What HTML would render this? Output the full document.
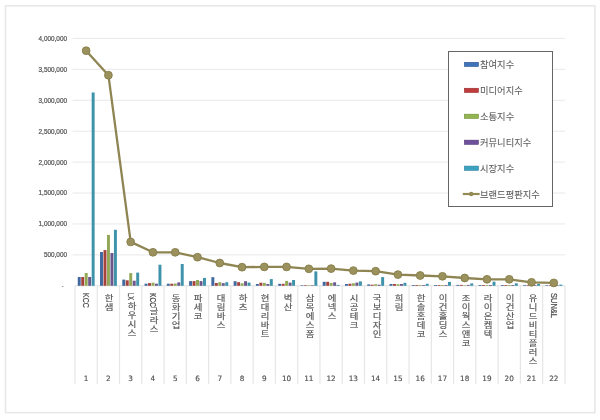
<!DOCTYPE html>
<html><head><meta charset="utf-8"><style>
html,body{margin:0;padding:0;background:#fff;}
#c{position:relative;width:600px;height:420px;overflow:hidden;background:#fff;}
#t{position:absolute;left:0;top:0;width:600px;height:420px;will-change:transform;}
svg{position:absolute;left:0;top:0;}
.yl{position:absolute;right:533px;font:6.4px/10px "Liberation Sans",sans-serif;color:#505050;-webkit-text-stroke:0.2px #505050;white-space:nowrap;text-align:right;}
.yz{position:absolute;left:61.5px;font:6.4px/10px "Liberation Sans",sans-serif;color:#595959;}
.lg{position:absolute;left:480px;font:9.3px/12px "Liberation Sans","Noto Sans CJK KR",sans-serif;color:#5a5a5a;-webkit-text-stroke:0.05px #5a5a5a;white-space:nowrap;}
.cl{position:absolute;top:293.6px;width:10px;writing-mode:vertical-rl;font:8.4px/10px "Liberation Sans","Noto Sans CJK KR",sans-serif;letter-spacing:0.6px;color:#525252;-webkit-text-stroke:0.15px #525252;white-space:nowrap;transform:scaleX(1.12);transform-origin:50% 0;}
.ll{position:absolute;top:293.2px;height:10px;font:8.8px/10px "Liberation Sans",sans-serif;color:#4a4a4a;-webkit-text-stroke:0.2px #4a4a4a;white-space:nowrap;transform-origin:0 0;}
.cn{position:absolute;top:374px;width:16px;text-align:center;font:7.3px/10px "DejaVu Sans",sans-serif;color:#505050;-webkit-text-stroke:0.15px #505050;}
</style></head><body><div id="c">
<svg width="600" height="420" viewBox="0 0 600 420">
<rect x="5.5" y="5.8" width="589.4" height="406.8" fill="#fff" stroke="#e6e6e6" stroke-width="1.5"/>
<line x1="72.5" y1="254.88" x2="564.94" y2="254.88" stroke="#e8e8e8" stroke-width="1"/>
<line x1="72.5" y1="223.95" x2="564.94" y2="223.95" stroke="#e8e8e8" stroke-width="1"/>
<line x1="72.5" y1="193.03" x2="564.94" y2="193.03" stroke="#e8e8e8" stroke-width="1"/>
<line x1="72.5" y1="162.10" x2="564.94" y2="162.10" stroke="#e8e8e8" stroke-width="1"/>
<line x1="72.5" y1="131.18" x2="564.94" y2="131.18" stroke="#e8e8e8" stroke-width="1"/>
<line x1="72.5" y1="100.25" x2="564.94" y2="100.25" stroke="#e8e8e8" stroke-width="1"/>
<line x1="72.5" y1="69.33" x2="564.94" y2="69.33" stroke="#e8e8e8" stroke-width="1"/>
<line x1="72.5" y1="38.40" x2="564.94" y2="38.40" stroke="#e8e8e8" stroke-width="1"/>
<line x1="75.00" y1="285.80" x2="564.94" y2="285.80" stroke="#e0e0e0" stroke-width="1"/>
<line x1="75.00" y1="285.80" x2="75.00" y2="383.7" stroke="#e6e6e6" stroke-width="1.2"/>
<line x1="97.27" y1="285.80" x2="97.27" y2="383.7" stroke="#e6e6e6" stroke-width="1.2"/>
<line x1="119.54" y1="285.80" x2="119.54" y2="383.7" stroke="#e6e6e6" stroke-width="1.2"/>
<line x1="141.81" y1="285.80" x2="141.81" y2="383.7" stroke="#e6e6e6" stroke-width="1.2"/>
<line x1="164.08" y1="285.80" x2="164.08" y2="383.7" stroke="#e6e6e6" stroke-width="1.2"/>
<line x1="186.35" y1="285.80" x2="186.35" y2="383.7" stroke="#e6e6e6" stroke-width="1.2"/>
<line x1="208.62" y1="285.80" x2="208.62" y2="383.7" stroke="#e6e6e6" stroke-width="1.2"/>
<line x1="230.89" y1="285.80" x2="230.89" y2="383.7" stroke="#e6e6e6" stroke-width="1.2"/>
<line x1="253.16" y1="285.80" x2="253.16" y2="383.7" stroke="#e6e6e6" stroke-width="1.2"/>
<line x1="275.43" y1="285.80" x2="275.43" y2="383.7" stroke="#e6e6e6" stroke-width="1.2"/>
<line x1="297.70" y1="285.80" x2="297.70" y2="383.7" stroke="#e6e6e6" stroke-width="1.2"/>
<line x1="319.97" y1="285.80" x2="319.97" y2="383.7" stroke="#e6e6e6" stroke-width="1.2"/>
<line x1="342.24" y1="285.80" x2="342.24" y2="383.7" stroke="#e6e6e6" stroke-width="1.2"/>
<line x1="364.51" y1="285.80" x2="364.51" y2="383.7" stroke="#e6e6e6" stroke-width="1.2"/>
<line x1="386.78" y1="285.80" x2="386.78" y2="383.7" stroke="#e6e6e6" stroke-width="1.2"/>
<line x1="409.05" y1="285.80" x2="409.05" y2="383.7" stroke="#e6e6e6" stroke-width="1.2"/>
<line x1="431.32" y1="285.80" x2="431.32" y2="383.7" stroke="#e6e6e6" stroke-width="1.2"/>
<line x1="453.59" y1="285.80" x2="453.59" y2="383.7" stroke="#e6e6e6" stroke-width="1.2"/>
<line x1="475.86" y1="285.80" x2="475.86" y2="383.7" stroke="#e6e6e6" stroke-width="1.2"/>
<line x1="498.13" y1="285.80" x2="498.13" y2="383.7" stroke="#e6e6e6" stroke-width="1.2"/>
<line x1="520.40" y1="285.80" x2="520.40" y2="383.7" stroke="#e6e6e6" stroke-width="1.2"/>
<line x1="542.67" y1="285.80" x2="542.67" y2="383.7" stroke="#e6e6e6" stroke-width="1.2"/>
<line x1="564.94" y1="285.80" x2="564.94" y2="383.7" stroke="#e6e6e6" stroke-width="1.2"/>
<rect x="77.75" y="277.00" width="2.95" height="8.80" fill="#41699F"/>
<rect x="81.23" y="277.00" width="2.95" height="8.80" fill="#A5423C"/>
<rect x="84.71" y="273.00" width="2.95" height="12.80" fill="#92A857"/>
<rect x="88.19" y="277.00" width="2.95" height="8.80" fill="#6B578C"/>
<rect x="91.67" y="92.50" width="2.95" height="193.30" fill="#3E93AA"/>
<rect x="100.02" y="252.00" width="2.95" height="33.80" fill="#41699F"/>
<rect x="103.50" y="250.10" width="2.95" height="35.70" fill="#A5423C"/>
<rect x="106.98" y="234.90" width="2.95" height="50.90" fill="#92A857"/>
<rect x="110.46" y="253.00" width="2.95" height="32.80" fill="#6B578C"/>
<rect x="113.94" y="229.80" width="2.95" height="56.00" fill="#3E93AA"/>
<rect x="122.29" y="279.60" width="2.95" height="6.20" fill="#41699F"/>
<rect x="125.77" y="280.30" width="2.95" height="5.50" fill="#A5423C"/>
<rect x="129.25" y="273.10" width="2.95" height="12.70" fill="#92A857"/>
<rect x="132.73" y="280.70" width="2.95" height="5.10" fill="#6B578C"/>
<rect x="136.21" y="272.60" width="2.95" height="13.20" fill="#3E93AA"/>
<rect x="144.56" y="283.70" width="2.95" height="2.10" fill="#41699F"/>
<rect x="148.04" y="283.10" width="2.95" height="2.70" fill="#A5423C"/>
<rect x="151.52" y="282.70" width="2.95" height="3.10" fill="#92A857"/>
<rect x="155.00" y="283.70" width="2.95" height="2.10" fill="#6B578C"/>
<rect x="158.48" y="264.70" width="2.95" height="21.10" fill="#3E93AA"/>
<rect x="166.83" y="283.70" width="2.95" height="2.10" fill="#41699F"/>
<rect x="170.31" y="283.70" width="2.95" height="2.10" fill="#A5423C"/>
<rect x="173.79" y="283.50" width="2.95" height="2.30" fill="#92A857"/>
<rect x="177.27" y="282.40" width="2.95" height="3.40" fill="#6B578C"/>
<rect x="180.75" y="264.00" width="2.95" height="21.80" fill="#3E93AA"/>
<rect x="189.10" y="281.10" width="2.95" height="4.70" fill="#41699F"/>
<rect x="192.58" y="281.10" width="2.95" height="4.70" fill="#A5423C"/>
<rect x="196.06" y="280.00" width="2.95" height="5.80" fill="#92A857"/>
<rect x="199.54" y="281.10" width="2.95" height="4.70" fill="#6B578C"/>
<rect x="203.02" y="277.90" width="2.95" height="7.90" fill="#3E93AA"/>
<rect x="211.37" y="277.20" width="2.95" height="8.60" fill="#41699F"/>
<rect x="214.85" y="283.00" width="2.95" height="2.80" fill="#A5423C"/>
<rect x="218.33" y="282.20" width="2.95" height="3.60" fill="#92A857"/>
<rect x="221.81" y="283.20" width="2.95" height="2.60" fill="#6B578C"/>
<rect x="225.29" y="282.20" width="2.95" height="3.60" fill="#3E93AA"/>
<rect x="233.64" y="281.20" width="2.95" height="4.60" fill="#41699F"/>
<rect x="237.12" y="282.20" width="2.95" height="3.60" fill="#A5423C"/>
<rect x="240.60" y="283.30" width="2.95" height="2.50" fill="#92A857"/>
<rect x="244.08" y="281.20" width="2.95" height="4.60" fill="#6B578C"/>
<rect x="247.56" y="282.60" width="2.95" height="3.20" fill="#3E93AA"/>
<rect x="255.91" y="284.00" width="2.95" height="1.80" fill="#41699F"/>
<rect x="259.39" y="282.70" width="2.95" height="3.10" fill="#A5423C"/>
<rect x="262.87" y="282.90" width="2.95" height="2.90" fill="#92A857"/>
<rect x="266.35" y="284.00" width="2.95" height="1.80" fill="#6B578C"/>
<rect x="269.83" y="279.10" width="2.95" height="6.70" fill="#3E93AA"/>
<rect x="278.18" y="283.80" width="2.95" height="2.00" fill="#41699F"/>
<rect x="281.66" y="283.80" width="2.95" height="2.00" fill="#A5423C"/>
<rect x="285.14" y="280.90" width="2.95" height="4.90" fill="#92A857"/>
<rect x="288.62" y="282.60" width="2.95" height="3.20" fill="#6B578C"/>
<rect x="292.10" y="280.00" width="2.95" height="5.80" fill="#3E93AA"/>
<rect x="300.45" y="285.20" width="2.95" height="0.60" fill="#41699F"/>
<rect x="303.93" y="285.20" width="2.95" height="0.60" fill="#A5423C"/>
<rect x="307.41" y="285.20" width="2.95" height="0.60" fill="#92A857"/>
<rect x="310.89" y="285.20" width="2.95" height="0.60" fill="#6B578C"/>
<rect x="314.37" y="271.40" width="2.95" height="14.40" fill="#3E93AA"/>
<rect x="322.72" y="281.80" width="2.95" height="4.00" fill="#41699F"/>
<rect x="326.20" y="281.80" width="2.95" height="4.00" fill="#A5423C"/>
<rect x="329.68" y="283.00" width="2.95" height="2.80" fill="#92A857"/>
<rect x="333.16" y="282.30" width="2.95" height="3.50" fill="#6B578C"/>
<rect x="336.64" y="284.90" width="2.95" height="0.90" fill="#3E93AA"/>
<rect x="344.99" y="284.00" width="2.95" height="1.80" fill="#41699F"/>
<rect x="348.47" y="283.70" width="2.95" height="2.10" fill="#A5423C"/>
<rect x="351.95" y="283.30" width="2.95" height="2.50" fill="#92A857"/>
<rect x="355.43" y="282.60" width="2.95" height="3.20" fill="#6B578C"/>
<rect x="358.91" y="281.40" width="2.95" height="4.40" fill="#3E93AA"/>
<rect x="367.26" y="284.40" width="2.95" height="1.40" fill="#41699F"/>
<rect x="370.74" y="284.70" width="2.95" height="1.10" fill="#A5423C"/>
<rect x="374.22" y="284.20" width="2.95" height="1.60" fill="#92A857"/>
<rect x="377.70" y="284.70" width="2.95" height="1.10" fill="#6B578C"/>
<rect x="381.18" y="277.10" width="2.95" height="8.70" fill="#3E93AA"/>
<rect x="389.53" y="284.00" width="2.95" height="1.80" fill="#41699F"/>
<rect x="393.01" y="284.00" width="2.95" height="1.80" fill="#A5423C"/>
<rect x="396.49" y="284.20" width="2.95" height="1.60" fill="#92A857"/>
<rect x="399.97" y="284.00" width="2.95" height="1.80" fill="#6B578C"/>
<rect x="403.45" y="282.80" width="2.95" height="3.00" fill="#3E93AA"/>
<rect x="411.80" y="285.00" width="2.95" height="0.80" fill="#41699F"/>
<rect x="415.28" y="285.00" width="2.95" height="0.80" fill="#A5423C"/>
<rect x="418.76" y="285.00" width="2.95" height="0.80" fill="#92A857"/>
<rect x="422.24" y="285.00" width="2.95" height="0.80" fill="#6B578C"/>
<rect x="425.72" y="283.80" width="2.95" height="2.00" fill="#3E93AA"/>
<rect x="434.07" y="285.00" width="2.95" height="0.80" fill="#41699F"/>
<rect x="437.55" y="285.00" width="2.95" height="0.80" fill="#A5423C"/>
<rect x="441.03" y="285.00" width="2.95" height="0.80" fill="#92A857"/>
<rect x="444.51" y="285.00" width="2.95" height="0.80" fill="#6B578C"/>
<rect x="447.99" y="281.90" width="2.95" height="3.90" fill="#3E93AA"/>
<rect x="456.34" y="284.90" width="2.95" height="0.90" fill="#41699F"/>
<rect x="459.82" y="284.90" width="2.95" height="0.90" fill="#A5423C"/>
<rect x="463.30" y="285.20" width="2.95" height="0.60" fill="#92A857"/>
<rect x="466.78" y="284.90" width="2.95" height="0.90" fill="#6B578C"/>
<rect x="470.26" y="283.40" width="2.95" height="2.40" fill="#3E93AA"/>
<rect x="478.61" y="285.00" width="2.95" height="0.80" fill="#41699F"/>
<rect x="482.09" y="285.00" width="2.95" height="0.80" fill="#A5423C"/>
<rect x="485.57" y="285.00" width="2.95" height="0.80" fill="#92A857"/>
<rect x="489.05" y="285.00" width="2.95" height="0.80" fill="#6B578C"/>
<rect x="492.53" y="281.70" width="2.95" height="4.10" fill="#3E93AA"/>
<rect x="500.88" y="285.00" width="2.95" height="0.80" fill="#41699F"/>
<rect x="504.36" y="285.00" width="2.95" height="0.80" fill="#A5423C"/>
<rect x="507.84" y="285.00" width="2.95" height="0.80" fill="#92A857"/>
<rect x="511.32" y="285.00" width="2.95" height="0.80" fill="#6B578C"/>
<rect x="514.80" y="283.30" width="2.95" height="2.50" fill="#3E93AA"/>
<rect x="523.15" y="285.10" width="2.95" height="0.70" fill="#41699F"/>
<rect x="526.63" y="285.10" width="2.95" height="0.70" fill="#A5423C"/>
<rect x="530.11" y="285.10" width="2.95" height="0.70" fill="#92A857"/>
<rect x="533.59" y="285.10" width="2.95" height="0.70" fill="#6B578C"/>
<rect x="537.07" y="284.00" width="2.95" height="1.80" fill="#3E93AA"/>
<rect x="545.42" y="285.20" width="2.95" height="0.60" fill="#41699F"/>
<rect x="548.90" y="285.20" width="2.95" height="0.60" fill="#A5423C"/>
<rect x="552.38" y="285.20" width="2.95" height="0.60" fill="#92A857"/>
<rect x="555.86" y="285.20" width="2.95" height="0.60" fill="#6B578C"/>
<rect x="559.34" y="284.60" width="2.95" height="1.20" fill="#3E93AA"/>
<polyline points="86.14,50.70 108.41,75.20 130.68,241.90 152.94,252.30 175.22,252.30 197.49,257.20 219.75,263.00 242.03,267.20 264.29,266.90 286.56,266.90 308.84,268.80 331.11,268.60 353.38,270.60 375.64,271.20 397.92,274.60 420.19,275.50 442.45,276.30 464.72,278.00 487.00,279.30 509.26,279.30 531.53,282.30 553.81,282.90" fill="none" stroke="#8E8553" stroke-width="2.3" stroke-linejoin="round"/>
<circle cx="86.14" cy="50.70" r="3.9" fill="#9A915C" stroke="#877E4C" stroke-width="0.9"/>
<circle cx="108.41" cy="75.20" r="3.9" fill="#9A915C" stroke="#877E4C" stroke-width="0.9"/>
<circle cx="130.68" cy="241.90" r="3.9" fill="#9A915C" stroke="#877E4C" stroke-width="0.9"/>
<circle cx="152.94" cy="252.30" r="3.9" fill="#9A915C" stroke="#877E4C" stroke-width="0.9"/>
<circle cx="175.22" cy="252.30" r="3.9" fill="#9A915C" stroke="#877E4C" stroke-width="0.9"/>
<circle cx="197.49" cy="257.20" r="3.9" fill="#9A915C" stroke="#877E4C" stroke-width="0.9"/>
<circle cx="219.75" cy="263.00" r="3.9" fill="#9A915C" stroke="#877E4C" stroke-width="0.9"/>
<circle cx="242.03" cy="267.20" r="3.9" fill="#9A915C" stroke="#877E4C" stroke-width="0.9"/>
<circle cx="264.29" cy="266.90" r="3.9" fill="#9A915C" stroke="#877E4C" stroke-width="0.9"/>
<circle cx="286.56" cy="266.90" r="3.9" fill="#9A915C" stroke="#877E4C" stroke-width="0.9"/>
<circle cx="308.84" cy="268.80" r="3.9" fill="#9A915C" stroke="#877E4C" stroke-width="0.9"/>
<circle cx="331.11" cy="268.60" r="3.9" fill="#9A915C" stroke="#877E4C" stroke-width="0.9"/>
<circle cx="353.38" cy="270.60" r="3.9" fill="#9A915C" stroke="#877E4C" stroke-width="0.9"/>
<circle cx="375.64" cy="271.20" r="3.9" fill="#9A915C" stroke="#877E4C" stroke-width="0.9"/>
<circle cx="397.92" cy="274.60" r="3.9" fill="#9A915C" stroke="#877E4C" stroke-width="0.9"/>
<circle cx="420.19" cy="275.50" r="3.9" fill="#9A915C" stroke="#877E4C" stroke-width="0.9"/>
<circle cx="442.45" cy="276.30" r="3.9" fill="#9A915C" stroke="#877E4C" stroke-width="0.9"/>
<circle cx="464.72" cy="278.00" r="3.9" fill="#9A915C" stroke="#877E4C" stroke-width="0.9"/>
<circle cx="487.00" cy="279.30" r="3.9" fill="#9A915C" stroke="#877E4C" stroke-width="0.9"/>
<circle cx="509.26" cy="279.30" r="3.9" fill="#9A915C" stroke="#877E4C" stroke-width="0.9"/>
<circle cx="531.53" cy="282.30" r="3.9" fill="#9A915C" stroke="#877E4C" stroke-width="0.9"/>
<circle cx="553.81" cy="282.90" r="3.9" fill="#9A915C" stroke="#877E4C" stroke-width="0.9"/>
<rect x="448.5" y="51.5" width="104" height="155" fill="#fff" stroke="#666" stroke-width="1"/>
<rect x="464.4" y="62.30" width="14.0" height="4.2" fill="#3F74BA" stroke="#2C5590" stroke-width="0.6"/>
<rect x="464.4" y="88.25" width="14.0" height="4.2" fill="#C03B3B" stroke="#982A2A" stroke-width="0.6"/>
<rect x="464.4" y="114.20" width="14.0" height="4.2" fill="#93B550" stroke="#6F8C38" stroke-width="0.6"/>
<rect x="464.4" y="140.15" width="14.0" height="4.2" fill="#6E4F9C" stroke="#513A78" stroke-width="0.6"/>
<rect x="464.4" y="166.10" width="14.0" height="4.2" fill="#3BA3C2" stroke="#2A7F99" stroke-width="0.6"/>
<line x1="462.8" y1="194.0" x2="479.6" y2="194.0" stroke="#948A54" stroke-width="2.2"/>
<circle cx="471.2" cy="194.0" r="2.2" fill="#948A54"/>
</svg>
<div id="t">
<div class="yl" style="top:33.80px">4,000,000</div>
<div class="yl" style="top:64.73px">3,500,000</div>
<div class="yl" style="top:95.65px">3,000,000</div>
<div class="yl" style="top:126.58px">2,500,000</div>
<div class="yl" style="top:157.50px">2,000,000</div>
<div class="yl" style="top:188.43px">1,500,000</div>
<div class="yl" style="top:219.35px">1,000,000</div>
<div class="yl" style="top:250.28px">500,000</div>
<div class="yz" style="top:280.80px">-</div>
<div class="lg" style="top:59.20px">참여지수</div>
<div class="lg" style="top:85.15px">미디어지수</div>
<div class="lg" style="top:111.10px">소통지수</div>
<div class="lg" style="top:137.05px">커뮤니티지수</div>
<div class="lg" style="top:163.00px">시장지수</div>
<div class="lg" style="top:188.80px">브랜드평판지수</div>
<div class="ll" style="left:91.14px;transform:rotate(90deg) scaleX(0.796)">KCC</div>
<div class="cn" style="left:78.14px">1</div>
<div class="cl" style="left:103.41px">한샘</div>
<div class="cn" style="left:100.41px">2</div>
<div class="ll" style="left:135.68px;transform:rotate(90deg) scaleX(0.644)">LX</div>
<div class="cl" style="left:125.68px;top:302.00px">하우시스</div>
<div class="cn" style="left:122.68px">3</div>
<div class="ll" style="left:157.94px;transform:rotate(90deg) scaleX(0.749)">KCC</div>
<div class="cl" style="left:147.94px;top:307.00px">글라스</div>
<div class="cn" style="left:144.94px">4</div>
<div class="cl" style="left:170.22px">동화기업</div>
<div class="cn" style="left:167.22px">5</div>
<div class="cl" style="left:192.49px">파세코</div>
<div class="cn" style="left:189.49px">6</div>
<div class="cl" style="left:214.75px">대림바스</div>
<div class="cn" style="left:211.75px">7</div>
<div class="cl" style="left:237.03px">하츠</div>
<div class="cn" style="left:234.03px">8</div>
<div class="cl" style="left:259.29px">현대리바트</div>
<div class="cn" style="left:256.29px">9</div>
<div class="cl" style="left:281.56px">벽산</div>
<div class="cn" style="left:278.56px">10</div>
<div class="cl" style="left:303.84px">삼목에스폼</div>
<div class="cn" style="left:300.84px">11</div>
<div class="cl" style="left:326.11px">에넥스</div>
<div class="cn" style="left:323.11px">12</div>
<div class="cl" style="left:348.38px">시공테크</div>
<div class="cn" style="left:345.38px">13</div>
<div class="cl" style="left:370.64px">국보디자인</div>
<div class="cn" style="left:367.64px">14</div>
<div class="cl" style="left:392.92px">희림</div>
<div class="cn" style="left:389.92px">15</div>
<div class="cl" style="left:415.19px">한솔홈데코</div>
<div class="cn" style="left:412.19px">16</div>
<div class="cl" style="left:437.45px">이건홀딩스</div>
<div class="cn" style="left:434.45px">17</div>
<div class="cl" style="left:459.72px">조이웍스앤코</div>
<div class="cn" style="left:456.72px">18</div>
<div class="cl" style="left:482.00px">라이온켐텍</div>
<div class="cn" style="left:479.00px">19</div>
<div class="cl" style="left:504.26px">이건산업</div>
<div class="cn" style="left:501.26px">20</div>
<div class="cl" style="left:526.53px">유니드비티플러스</div>
<div class="cn" style="left:523.53px">21</div>
<div class="ll" style="left:558.81px;transform:rotate(90deg) scaleX(0.852)">SUN&amp;L</div>
<div class="cn" style="left:545.81px">22</div>
</div>
</div></body></html>
